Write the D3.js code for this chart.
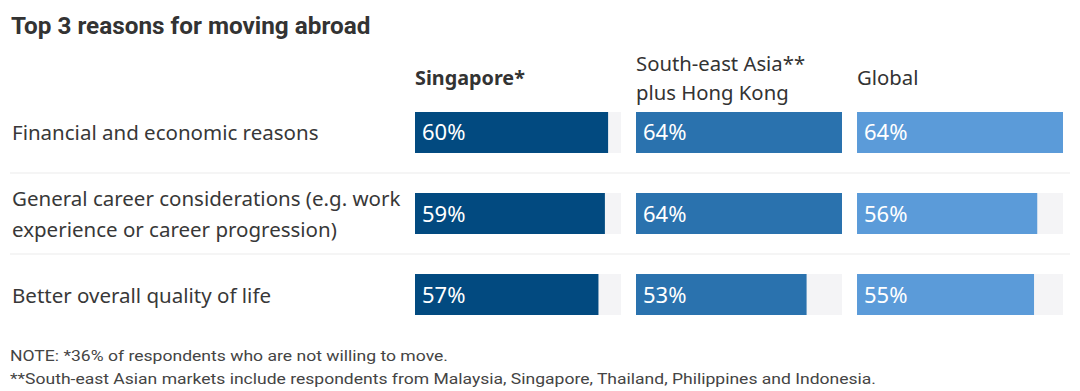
<!DOCTYPE html>
<html lang="en">
<head>
  <meta charset="utf-8">
  <title>Top 3 reasons for moving abroad</title>
  <style>
    body {
      margin: 0;
      overflow: hidden;
      background-color: #fff;
      font-family: "Noto Sans", Roboto, sans-serif;
    }
  </style>
  <script src="https://d3js.org/d3.v7.min.js" charset="utf-8"></script>
</head>
<body>
<section id="chart"></section>

<script>

var reasons = [
  ['Financial and economic reasons'],
  ['General career considerations (e.g. work', 'experience or career progression)'],
  ['Better overall quality of life']
];
var groups = [['Singapore*'], ['South-east Asia**', 'plus Hong Kong'], ['Global']];
var singapore = [60, 59, 57];
var seAsia = [64, 64, 53];
var globalVals = [64, 56, 55];
var notes = [
  'NOTE: *36% of respondents who are not willing to move.',
  '**South-east Asian markets include respondents from Malaysia, Singapore, Thailand, Philippines and Indonesia.'
];

var w = 1080, h = 391;
var colors = ['#024a80', '#2a72ae', '#5b9bd9'];
var series = [singapore, seAsia, globalVals];

var svg = d3.select('#chart').append('svg')
  .attr('width', w)
  .attr('height', h);

// title
svg.append('text')
  .attr('x', 11)
  .attr('y', 34)
  .attr('fill', '#333')
  .style('font-family', 'Roboto, sans-serif')
  .style('font-size', '24.3px')
  .style('font-weight', 700)
  .text('Top 3 reasons for moving abroad');

// column positions
var colX = d3.scaleBand()
  .domain(d3.range(groups.length))
  .range([415, 1063])
  .paddingInner(0.068)
  .paddingOuter(0);

var rowY = d3.scaleBand()
  .domain(d3.range(reasons.length))
  .range([112, 315])
  .paddingInner(0.494)
  .paddingOuter(0);

var maxVal = d3.max(series, function(s) { return d3.max(s); });
var x = d3.scaleLinear()
  .domain([0, maxVal])
  .range([0, colX.bandwidth()]);

// column headers
groups.forEach(function(g, gi) {
  var t = svg.append('text')
    .attr('x', colX(gi))
    .attr('fill', '#333')
    .style('font-size', gi === 0 ? '19.8px' : '20.3px')
    .style('font-weight', gi === 0 ? 700 : 400);
  var y0 = g.length === 1 ? 85 : 71;
  g.forEach(function(line, li) {
    t.append('tspan')
      .attr('x', colX(gi))
      .attr('y', y0 + li * 29)
      .text(line);
  });
});

// separators
[0, 1].forEach(function(i) {
  var yy = (rowY(i) + rowY.bandwidth() + rowY(i + 1)) / 2;
  svg.append('line')
    .attr('x1', 10).attr('x2', 1070)
    .attr('y1', yy).attr('y2', yy)
    .attr('stroke', '#ebebeb')
    .attr('stroke-width', 1);
});

// row labels
reasons.forEach(function(r, ri) {
  var cy = rowY(ri) + rowY.bandwidth() / 2;
  var t = svg.append('text')
    .attr('fill', '#383838')
    .style('font-size', '20.5px');
  r.forEach(function(line, li) {
    t.append('tspan')
      .attr('x', 12)
      .attr('y', cy + 8 + (li - (r.length - 1) / 2) * 31)
      .text(line);
  });
});

// bars
series.forEach(function(s, si) {
  var g = svg.append('g');
  g.selectAll('rect.track')
    .data(s)
    .enter().append('rect')
    .attr('class', 'track')
    .attr('x', colX(si))
    .attr('y', function(d, i) { return rowY(i); })
    .attr('width', colX.bandwidth())
    .attr('height', rowY.bandwidth())
    .attr('fill', '#f4f4f6');
  g.selectAll('rect.bar')
    .data(s)
    .enter().append('rect')
    .attr('class', 'bar')
    .attr('x', colX(si))
    .attr('y', function(d, i) { return rowY(i); })
    .attr('width', function(d) { return x(d); })
    .attr('height', rowY.bandwidth())
    .attr('fill', colors[si]);
  g.selectAll('text')
    .data(s)
    .enter().append('text')
    .attr('x', colX(si) + 7)
    .attr('y', function(d, i) { return rowY(i) + rowY.bandwidth() / 2 + 8; })
    .attr('fill', '#fff')
    .style('font-size', '22px')
    .text(function(d) { return d + '%'; });
});

// notes
notes.forEach(function(n, ni) {
  svg.append('text')
    .attr('x', 10)
    .attr('y', 361 + ni * 23)
    .attr('fill', '#444')
    .style('font-family', 'Roboto, sans-serif')
    .style('font-size', '14.5px')
    .attr('textLength', ni === 0 ? 438 : 866)
    .attr('lengthAdjust', 'spacingAndGlyphs')
    .text(n);
});

</script>
</body>
</html>
